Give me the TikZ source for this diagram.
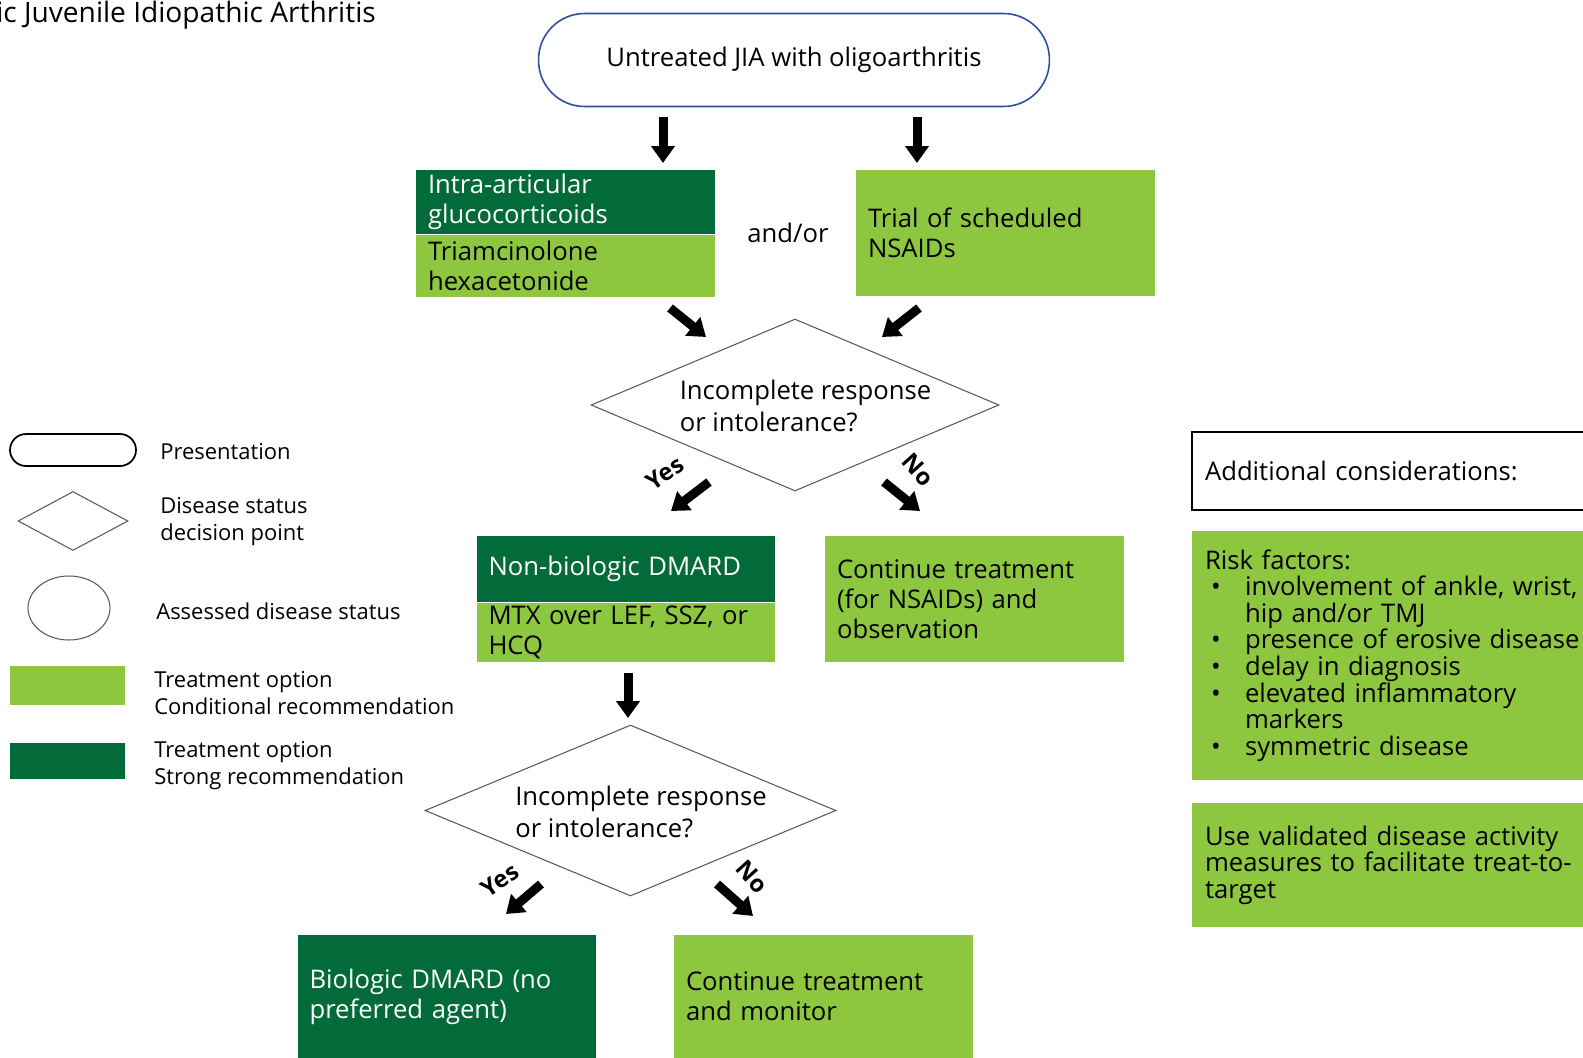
\documentclass[tikz,border=0pt]{standalone}
\usepackage{fontspec}
\setmainfont{Open Sans}
\usepackage{tikz}
\usetikzlibrary{arrows.meta,shapes.geometric,positioning}
\usepackage{xcolor}
\definecolor{condgreen}{HTML}{8DC63F}
\definecolor{stronggreen}{HTML}{036B3A}
\definecolor{ovalblue}{HTML}{2F4E9C}
\definecolor{edgegray}{HTML}{5A5A5A}
\newcommand{\riskitem}{\hspace*{0.12cm}\makebox[0.68cm][l]{\textbullet}}
\newcommand{\riskcont}{\hspace*{0.80cm}}
\tikzset{
    boxtext/.style={
        font=\fontsize{14.6}{17}\selectfont
    },
    conditional/.style={
        boxtext,
        fill=condgreen,
        text=black,
        align=left,
        text width=5.5cm,
        minimum width=5.98cm,
        inner xsep=0.24cm,
        inner ysep=0pt
    },
    strong/.style={
        conditional,
        fill=stronggreen,
        text=white
    },
    presentation/.style={
        boxtext,
        draw=ovalblue,
        line width=0.9pt,
        rounded corners=0.92cm,
        minimum width=10.22cm,
        minimum height=1.86cm
    },
    decision/.style={
        diamond,
        draw=edgegray,
        line width=0.6pt,
        inner sep=0pt
    },
    decisiontext/.style={
        font=\fontsize{14.6}{18.2}\selectfont,
        align=left,
        inner sep=0pt
    },
    sidebox/.style={
        font=\fontsize{14.6}{15.1}\selectfont,
        fill=condgreen,
        align=left,
        text width=8.5cm,
        inner xsep=0.26cm,
        inner ysep=0pt
    },
    bigarrow/.style={
        -{Triangle[width=0.46cm,length=0.34cm]},
        line width=0.18cm,
        black
    },
    answer/.style={
        font=\fontsize{13.5}{15}\selectfont\bfseries,
        inner sep=0pt
    },
    keyshape/.style={
        draw=edgegray,
        line width=0.6pt,
        inner sep=0pt
    },
    keylabel/.style={
        font=\fontsize{12.5}{15.3}\selectfont,
        anchor=west,
        align=left,
        inner sep=0pt
    }
}

\begin{document}
\begin{tikzpicture}[x=0.02cm,y=-0.02cm]

    \useasboundingbox (0,0) rectangle (1583,1058);
    \clip (0,0) rectangle (1583,1058);
    \fill[white] (0,0) rectangle (1583,1058);

    % Title
    \node[
        font=\fontsize{16}{18}\selectfont,
        anchor=base west,
        inner sep=0pt
    ] (title) at (-4,22) {ic Juvenile Idiopathic Arthritis};

    % Presentation
    \node[presentation] (start) at (794,60) {Untreated JIA with oligoarthritis};

    % First line treatment
    \node[strong, minimum height=1.28cm] (iac) at (565.5,202)
        {Intra-articular\\glucocorticoids};
    \node[conditional, minimum height=1.24cm, below=0pt of iac] (iacsub)
        {Triamcinolone\\hexacetonide};

    \node[boxtext] (andor) at (788,233) {and/or};

    \node[conditional, minimum height=2.52cm] (nsaid) at (1005.5,233)
        {Trial of scheduled\\NSAIDs};

    % Decision 1
    \node[
        decision,
        minimum width=8.16cm,
        minimum height=3.44cm
    ] (dec1) at (795,405) {};
    \node[decisiontext] (dec1txt) at (805.5,406)
        {Incomplete response\\or intolerance?};

    % Second line
    \node[strong, minimum height=1.32cm] (mtx) at (626,569)
        {Non-biologic DMARD};
    \node[conditional, minimum height=1.18cm, below=0pt of mtx] (mtxsub)
        {MTX over LEF, SSZ, or\\HCQ};

    \node[conditional, minimum height=2.52cm] (contobs) at (974.5,599)
        {Continue treatment\\(for NSAIDs) and\\observation};

    % Decision 2
    \node[
        decision,
        minimum width=8.22cm,
        minimum height=3.42cm
    ] (dec2) at (630.5,810.5) {};
    \node[decisiontext] (dec2txt) at (641,811.5)
        {Incomplete response\\or intolerance?};

    % Third line
    \node[strong, minimum height=2.46cm] (bio) at (447,996.5)
        {Biologic DMARD (no\\preferred agent)};
    \node[conditional, minimum height=2.46cm] (contmon) at (823.5,996.5)
        {Continue treatment\\and monitor};

    % Arrows
    \coordinate (a1s) at (663,117);  \coordinate (a1e) at (663,163);
    \coordinate (a2s) at (917,117);  \coordinate (a2e) at (917,163);
    \coordinate (a3s) at (670,308);  \coordinate (a3e) at (706,337);
    \coordinate (a4s) at (919,308);  \coordinate (a4e) at (882,337);
    \coordinate (y1s) at (709,482);  \coordinate (y1e) at (671,511);
    \coordinate (n1s) at (884,482);  \coordinate (n1e) at (920,511);
    \coordinate (a5s) at (628,673);  \coordinate (a5e) at (628,718);
    \coordinate (y2s) at (541,884);  \coordinate (y2e) at (506,914);
    \coordinate (n2s) at (717,884);  \coordinate (n2e) at (753,916);

    \foreach \s/\e in {a1s/a1e,a2s/a2e,a3s/a3e,a4s/a4e,y1s/y1e,
                       n1s/n1e,a5s/a5e,y2s/y2e,n2s/n2e}
        \draw[bigarrow] (\s) -- (\e);

    % Answers
    \node[answer, rotate=35]  (yes1) at (665,473) {Yes};
    \node[answer, rotate=-48] (no1)  at (918,470) {No};
    \node[answer, rotate=35]  (yes2) at (500,880) {Yes};
    \node[answer, rotate=-48] (no2)  at (752,877) {No};

    % Additional considerations
    \node[
        sidebox,
        fill=white,
        draw=black,
        line width=1pt,
        minimum height=1.56cm
    ] (addcons) at (1417.5,471) {Additional considerations:};

    \node[sidebox, minimum height=4.98cm] (risk) at (1417.5,655.5)
        {Risk factors:\\
         \riskitem involvement of ankle, wrist,\\
         \riskcont hip and/or TMJ\\
         \riskitem presence of erosive disease\\
         \riskitem delay in diagnosis\\
         \riskitem elevated inflammatory\\
         \riskcont markers\\
         \riskitem symmetric disease};

    \node[sidebox, minimum height=2.48cm] (t2t) at (1417.5,865)
        {Use validated disease activity\\
         measures to facilitate treat-to-\\
         target};

    % Legend
    \node[
        keyshape,
        draw=black,
        line width=1pt,
        rounded corners=0.32cm,
        minimum width=2.52cm,
        minimum height=0.64cm
    ] (keypres) at (73,450) {};
    \node[keylabel] (keypreslbl) at (160,452) {Presentation};

    \node[
        keyshape,
        diamond,
        minimum width=2.2cm,
        minimum height=1.18cm
    ] (keydec) at (73,521) {};
    \node[keylabel] (keydeclbl) at (160,522) {Disease status\\decision point};

    \node[
        keyshape,
        ellipse,
        minimum width=1.64cm,
        minimum height=1.28cm
    ] (keyassess) at (69,608) {};
    \node[keylabel] (keyassesslbl) at (156,611) {Assessed disease status};

    \node[
        fill=condgreen,
        inner sep=0pt,
        minimum width=2.3cm,
        minimum height=0.78cm
    ] (keycond) at (67.5,685.5) {};
    \node[keylabel] (keycondlbl) at (154,693)
        {Treatment option\\Conditional recommendation};

    \node[
        fill=stronggreen,
        inner sep=0pt,
        minimum width=2.3cm,
        minimum height=0.72cm
    ] (keystrong) at (67.5,761) {};
    \node[keylabel] (keystronglbl) at (154,766)
        {Treatment option\\Strong recommendation};

\end{tikzpicture}
\end{document}
